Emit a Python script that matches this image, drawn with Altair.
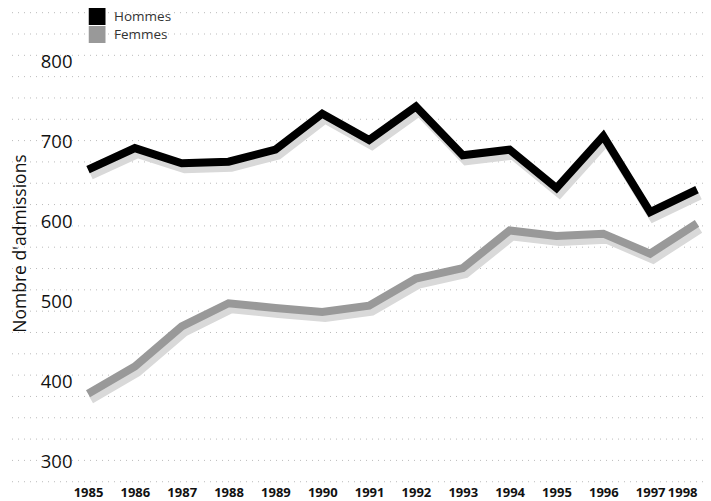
import altair as alt
import pandas as pd

years = list(range(1985, 1999))
hommes = [665, 692, 673, 675, 690, 735, 702, 744, 683, 690, 642, 707, 612, 640]
femmes = [385, 419, 469, 498, 492, 487, 495, 529, 542, 589, 582, 585, 560, 598]
series_names = ["Hommes", "Femmes"]
series_colors = ["#000000", "#999999"]
y_labels = [300, 400, 500, 600, 700, 800]
grid_values = [861.25, 834.6, 807.95, 781.3, 754.65, 728, 701.35, 674.7, 648.05,
               621.4, 594.75, 568.1, 541.45, 514.8, 488.15, 461.5, 434.85, 408.2,
               381.55, 354.9, 328.25, 301.6, 274.95]

rows = []
for y, h, f in zip(years, hommes, femmes):
    rows.append({"annee": y, "valeur": h, "serie": "Hommes"})
    rows.append({"annee": y, "valeur": f, "serie": "Femmes"})
df = pd.DataFrame(rows)
grid_df = pd.DataFrame({"valeur": grid_values})

FONT = "Open Sans"
xscale = alt.Scale(domain=[1983.292, 1998.128], zero=False, nice=False)
yscale = alt.Scale(domain=[272.1, 867.1], zero=False, nice=False)

x_axis = alt.Axis(
    values=years, format="d", title=None, grid=False, domain=False, ticks=False,
    labelFont=FONT, labelFontSize=13, labelFontWeight="bold", labelColor="#111111",
    labelPadding=8, labelBaseline="middle", labelFlush=10, labelOverlap=False,
)
y_axis = alt.Axis(
    values=y_labels, title="Nombre d'admissions", grid=False, domain=False, ticks=False,
    offset=-68, labelPadding=4, labelFont=FONT, labelFontSize=18.5, labelColor="#111111",
    titleFont=FONT, titleFontSize=17.5, titleFontWeight="normal", titleColor="#111111",
    titleAngle=270, titleX=-56, titleY=235, titleAlign="center", titleBaseline="middle",
)

grid = alt.Chart(grid_df).mark_rule(color="#bbbbbb", strokeWidth=1, strokeDash=[1, 5]).encode(
    y=alt.Y("valeur:Q", scale=yscale, axis=y_axis)
)

base = alt.Chart(df)
X = alt.X("annee:Q", scale=xscale, axis=x_axis)
Y = alt.Y("valeur:Q", scale=yscale, axis=y_axis)

shadow = base.mark_line(color="#d9d9d9", strokeWidth=8, xOffset=3, yOffset=6).encode(
    x=X, y=Y, detail="serie:N",
)

lines = base.mark_line(strokeWidth=8).encode(
    x=X, y=Y,
    stroke=alt.Stroke(
        "serie:N",
        scale=alt.Scale(domain=series_names, range=series_colors),
        legend=alt.Legend(
            title=None, orient="none", legendX=80.5, legendY=0, symbolType="square",
            symbolSize=64, symbolStrokeWidth=9, symbolOpacity=1, rowPadding=1,
            clipHeight=17,
            labelOffset=8.5, labelFont=FONT, labelFontSize=13.5, labelColor="#333333",
            padding=0,
        ),
    ),
)

chart = alt.layer(grid, shadow, lines).properties(
    width=695,
    height=476,
    autosize=alt.AutoSizeParams(type="none"),
    padding={"left": 0, "top": 0, "right": 0, "bottom": 17},
).configure_view(stroke=None)

chart.save("out.html", embed_options={"renderer": "svg", "actions": False})
